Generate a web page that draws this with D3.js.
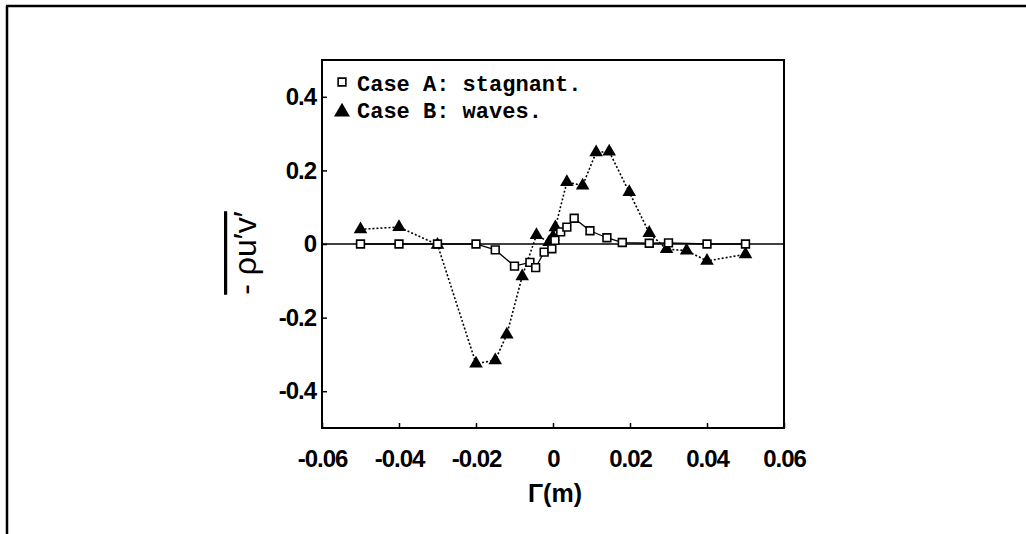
<!DOCTYPE html>
<html>
<head>
<meta charset="utf-8">
<title></title>
<style>
body { margin: 0; background: #fff; }
.tick text { font: bold 24px "Liberation Sans", Arial, sans-serif; letter-spacing: -1px; fill: #000; }
.tick line { stroke: #000; stroke-width: 1.5px; }
.domain { display: none; }
.legend text { font: bold 22px "Liberation Mono", monospace; fill: #000; }
</style>
</head>
<body>
<script src="https://cdn.jsdelivr.net/npm/d3@7/dist/d3.min.js"></script>
<script>

// Case A: stagnant (open squares, solid line)
var caseA_r = [-0.05, -0.04, -0.03, -0.02, -0.015, -0.01, -0.006, -0.0045, -0.0023, -0.0003, 0.0005, 0.002, 0.0036, 0.0055, 0.0096, 0.014, 0.018, 0.025, 0.03, 0.04, 0.05];
var caseA_v = [0, 0, 0, 0, -0.016, -0.06, -0.05, -0.064, -0.022, -0.013, 0.01, 0.033, 0.046, 0.07, 0.036, 0.017, 0.004, 0.002, 0.003, 0, 0];

// Case B: waves (filled triangles, dotted line)
var caseB_r = [-0.05, -0.04, -0.03, -0.02, -0.015, -0.012, -0.008, -0.0043, -0.001, 0, 0.0006, 0.0036, 0.0077, 0.0112, 0.0146, 0.0198, 0.025, 0.0295, 0.0347, 0.04, 0.05];
var caseB_v = [0.04, 0.046, -0.002, -0.325, -0.316, -0.246, -0.088, 0.024, 0.005, 0.02, 0.045, 0.168, 0.159, 0.249, 0.251, 0.141, 0.03, -0.014, -0.018, -0.046, -0.028];

var xTicks = [-0.06, -0.04, -0.02, 0, 0.02, 0.04, 0.06];
var xTickLabels = ["-0.06", "-0.04", "-0.02", "0", "0.02", "0.04", "0.06"];
var yTicks = [-0.4, -0.2, 0, 0.2, 0.4];
var yTickLabels = ["-0.4", "-0.2", "0", "0.2", "0.4"];
var legendLabels = ["Case A: stagnant.", "Case B: waves."];

var width = 1026, height = 534;

var svg = d3.select("body").append("svg")
    .attr("width", width)
    .attr("height", height);

// outer frame (only top and left edges show)
svg.append("line").attr("x1", 6).attr("y1", 6).attr("x2", width).attr("y2", 6)
    .attr("stroke", "#000").attr("stroke-width", 2.5);
svg.append("line").attr("x1", 7).attr("y1", 6).attr("x2", 7).attr("y2", height)
    .attr("stroke", "#000").attr("stroke-width", 2.5);

var x = d3.scaleLinear().domain([-0.06, 0.06]).range([322, 784]);
var y = d3.scaleLinear().domain([-0.5, 0.5]).range([428, 60]);

// axes
svg.append("g")
    .attr("transform", "translate(0," + y(-0.5) + ")")
    .call(d3.axisBottom(x).tickValues(xTicks).tickSize(-5).tickPadding(22)
        .tickFormat(function(d, i) { return xTickLabels[i]; }));

svg.append("g")
    .attr("transform", "translate(" + x(-0.06) + ",0)")
    .call(d3.axisLeft(y).tickValues(yTicks).tickSize(-5).tickPadding(6)
        .tickFormat(function(d, i) { return yTickLabels[i]; }));

// plot box
svg.append("rect")
    .attr("x", x(-0.06)).attr("y", y(0.5))
    .attr("width", x(0.06) - x(-0.06)).attr("height", y(-0.5) - y(0.5))
    .attr("fill", "none").attr("stroke", "#000").attr("stroke-width", 2);

// zero line
svg.append("line")
    .attr("x1", x(-0.06)).attr("x2", x(0.06))
    .attr("y1", y(0)).attr("y2", y(0))
    .attr("stroke", "#000").attr("stroke-width", 1.6);

var dataA = caseA_r.map(function(r, i) { return {r: r, v: caseA_v[i]}; });
var dataB = caseB_r.map(function(r, i) { return {r: r, v: caseB_v[i]}; });

var line = d3.line()
    .x(function(d) { return x(d.r); })
    .y(function(d) { return y(d.v); });

svg.append("path")
    .datum(dataB)
    .attr("d", line)
    .attr("fill", "none")
    .attr("stroke", "#000")
    .attr("stroke-width", 1.6)
    .attr("stroke-dasharray", "2,2");

svg.append("path")
    .datum(dataA)
    .attr("d", line)
    .attr("fill", "none")
    .attr("stroke", "#000")
    .attr("stroke-width", 1.3);

var square = d3.symbol().type(d3.symbolSquare).size(60);
var triangle = d3.symbol().type(d3.symbolTriangle).size(80);

svg.append("g").selectAll("path")
    .data(dataB)
    .enter().append("path")
    .attr("d", triangle)
    .attr("transform", function(d) { return "translate(" + x(d.r) + "," + y(d.v) + ")"; })
    .attr("fill", "#000");

svg.append("g").selectAll("path")
    .data(dataA)
    .enter().append("path")
    .attr("d", square)
    .attr("transform", function(d) { return "translate(" + x(d.r) + "," + y(d.v) + ")"; })
    .attr("fill", "#fff")
    .attr("stroke", "#000")
    .attr("stroke-width", 1.6);

// legend
var legend = svg.append("g").attr("class", "legend");
legend.append("path")
    .attr("d", square)
    .attr("transform", "translate(342,82)")
    .attr("fill", "#fff").attr("stroke", "#000").attr("stroke-width", 1.6);
legend.append("path")
    .attr("d", d3.symbol().type(d3.symbolTriangle).size(110))
    .attr("transform", "translate(342,112)")
    .attr("fill", "#000");
legend.selectAll("text")
    .data(legendLabels)
    .enter().append("text")
    .attr("x", 357)
    .attr("y", function(d, i) { return 91 + i * 27; })
    .text(function(d) { return d; });

// axis titles
svg.append("text")
    .attr("x", 555)
    .attr("y", 502)
    .attr("text-anchor", "middle")
    .style("font", "bold 25px 'Liberation Sans', Arial, sans-serif")
    .text("Γ(m)");

svg.append("text")
    .attr("transform", "translate(256,253) rotate(-90)")
    .attr("text-anchor", "middle")
    .style("font", "32px 'Liberation Sans', Arial, sans-serif")
    .style("text-decoration", "overline")
    .text("- ρu′v′");

</script>
</body>
</html>
